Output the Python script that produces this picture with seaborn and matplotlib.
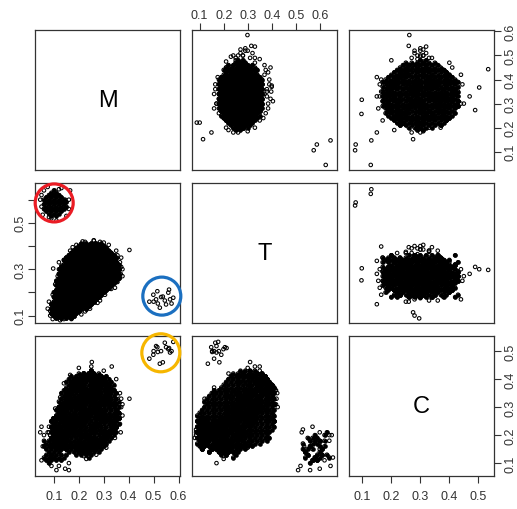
import numpy as np
import pandas as pd
import matplotlib
matplotlib.use("Agg")
import matplotlib.pyplot as plt
from matplotlib.patches import Ellipse
import seaborn as sns

# all point values below are in hundredths

# lower panels: main cloud, one line per M value
main_m = [
    9, 9, 9, 9, 9,
    10, 10, 10, 10, 10, 10,
    11, 11, 11, 11, 11, 11, 11, 11, 11,
    12, 12, 12, 12, 12, 12, 12, 12, 12, 12, 12,
    13, 13, 13, 13, 13, 13, 13, 13, 13, 13, 13, 13,
    14, 14, 14, 14, 14, 14, 14, 14, 14, 14, 14, 14, 14,
    15, 15, 15, 15, 15, 15, 15, 15, 15, 15, 15, 15, 15, 15,
    16, 16, 16, 16, 16, 16, 16, 16, 16, 16, 16, 16, 16, 16,
    17, 17, 17, 17, 17, 17, 17, 17, 17, 17, 17, 17, 17, 17, 17,
    18, 18, 18, 18, 18, 18, 18, 18, 18, 18, 18, 18, 18, 18, 18,
    19, 19, 19, 19, 19, 19, 19, 19, 19, 19, 19, 19, 19, 19, 19,
    20, 20, 20, 20, 20, 20, 20, 20, 20, 20, 20, 20, 20, 20, 20,
    21, 21, 21, 21, 21, 21, 21, 21, 21, 21, 21, 21, 21, 21, 21,
    22, 22, 22, 22, 22, 22, 22, 22, 22, 22, 22, 22, 22, 22, 22,
    23, 23, 23, 23, 23, 23, 23, 23, 23, 23, 23, 23, 23, 23, 23,
    24, 24, 24, 24, 24, 24, 24, 24, 24, 24, 24, 24, 24, 24, 24, 24,
    25, 25, 25, 25, 25, 25, 25, 25, 25, 25, 25, 25, 25, 25, 25, 25,
    26, 26, 26, 26, 26, 26, 26, 26, 26, 26, 26, 26, 26, 26, 26,
    27, 27, 27, 27, 27, 27, 27, 27, 27, 27, 27, 27, 27, 27,
    28, 28, 28, 28, 28, 28, 28, 28, 28, 28, 28, 28, 28, 28, 28,
    29, 29, 29, 29, 29, 29, 29, 29, 29, 29, 29, 29, 29, 29,
    30, 30, 30, 30, 30, 30, 30, 30, 30, 30, 30, 30, 30,
    31, 31, 31, 31, 31, 31, 31, 31, 31, 31, 31, 31, 31,
    32, 32, 32, 32, 32, 32, 32, 32, 32, 32, 32, 32,
    33, 33, 33, 33, 33, 33, 33, 33, 33, 33, 33,
    34, 34, 34, 34, 34, 34, 34, 34, 34, 34,
    35, 35, 35, 35, 35, 35, 35, 35,
    36, 36, 36, 36, 36,
]
main_t = [
    11, 11, 13, 13, 15,
    10, 12, 14, 16, 18, 20,
    9, 11, 13, 15, 17, 19, 21, 23, 25,
    10, 12, 14, 16, 18, 20, 22, 24, 26, 28, 30,
    9, 11, 13, 15, 17, 19, 21, 23, 25, 27, 29, 31,
    10, 12, 14, 16, 18, 20, 22, 24, 26, 28, 30, 32, 34,
    9, 11, 13, 15, 17, 19, 21, 23, 25, 27, 29, 31, 33, 35,
    10, 12, 14, 16, 18, 20, 22, 24, 26, 28, 30, 32, 34, 36,
    9, 11, 13, 15, 17, 19, 21, 23, 25, 27, 29, 31, 33, 35, 37,
    10, 12, 14, 16, 18, 20, 22, 24, 26, 28, 30, 32, 34, 36, 38,
    11, 13, 15, 17, 19, 21, 23, 25, 27, 29, 31, 33, 35, 37, 39,
    12, 14, 16, 18, 20, 22, 24, 26, 28, 30, 32, 34, 36, 38, 40,
    13, 15, 17, 19, 21, 23, 25, 27, 29, 31, 33, 35, 37, 39, 41,
    14, 16, 18, 20, 22, 24, 26, 28, 28, 30, 32, 34, 36, 38, 40,
    13, 15, 17, 19, 21, 23, 25, 27, 29, 31, 33, 35, 37, 39, 41,
    14, 16, 18, 20, 22, 24, 26, 26, 28, 30, 32, 32, 34, 36, 38, 40,
    15, 17, 19, 21, 23, 25, 27, 27, 29, 31, 33, 33, 35, 37, 39, 41,
    16, 18, 20, 22, 24, 26, 28, 28, 30, 32, 34, 34, 36, 38, 40,
    17, 19, 21, 23, 25, 27, 29, 29, 31, 33, 35, 37, 39, 41,
    18, 20, 22, 24, 24, 26, 28, 30, 30, 32, 34, 36, 36, 38, 40,
    19, 21, 23, 25, 27, 27, 29, 31, 33, 33, 35, 37, 39, 41,
    20, 22, 24, 26, 26, 28, 30, 32, 34, 34, 36, 38, 40,
    21, 23, 25, 25, 27, 29, 31, 31, 33, 35, 35, 37, 39,
    22, 24, 26, 26, 28, 30, 30, 32, 34, 34, 36, 38,
    23, 25, 27, 27, 29, 31, 31, 33, 35, 35, 37,
    24, 26, 28, 28, 30, 30, 32, 34, 34, 36,
    25, 27, 29, 29, 31, 31, 33, 35,
    26, 28, 30, 30, 32,
]
main_c = [
    23, 25, 17, 19, 21,
    24, 26, 16, 18, 20, 22,
    23, 15, 17, 19, 21, 21, 29, 25, 27,
    16, 18, 20, 22, 22, 24, 26, 26, 28, 30, 32,
    17, 19, 21, 23, 25, 15, 27, 29, 31, 33, 35, 25,
    20, 22, 24, 24, 16, 18, 28, 30, 32, 34, 26, 28, 36,
    21, 23, 25, 15, 17, 19, 31, 33, 35, 27, 27, 29, 39, 37,
    22, 24, 14, 16, 18, 20, 34, 36, 26, 28, 30, 32, 38, 40,
    25, 15, 17, 19, 21, 23, 35, 25, 27, 29, 31, 33, 41, 37, 39,
    18, 16, 14, 20, 22, 24, 26, 28, 28, 30, 32, 34, 36, 38, 40,
    15, 17, 19, 21, 23, 13, 27, 29, 31, 33, 35, 25, 39, 41, 37,
    18, 20, 22, 24, 14, 16, 30, 32, 34, 36, 26, 28, 42, 40, 38,
    19, 21, 23, 13, 15, 17, 31, 33, 35, 41, 27, 29, 37, 39, 25,
    22, 24, 14, 16, 18, 20, 34, 42, 26, 28, 30, 32, 40, 36, 38,
    23, 19, 15, 17, 13, 21, 35, 39, 27, 29, 31, 33, 41, 37, 25,
    22, 20, 18, 16, 14, 12, 34, 32, 30, 28, 26, 24, 42, 40, 38, 36,
    15, 17, 19, 21, 23, 13, 27, 29, 31, 43, 35, 25, 39, 41, 33, 37,
    18, 20, 22, 24, 14, 16, 30, 32, 34, 36, 40, 28, 42, 38, 26,
    21, 23, 25, 15, 17, 19, 33, 35, 41, 27, 29, 39, 37, 31,
    22, 24, 14, 16, 18, 20, 42, 36, 26, 28, 30, 32, 40, 34, 38,
    25, 15, 17, 19, 21, 23, 41, 27, 29, 39, 33, 35, 37, 31,
    26, 24, 22, 20, 18, 16, 38, 36, 34, 32, 30, 40, 28,
    19, 21, 23, 25, 27, 17, 31, 33, 41, 37, 39, 29, 35,
    22, 24, 26, 28, 18, 20, 34, 36, 38, 40, 30, 32,
    25, 27, 29, 19, 21, 23, 37, 39, 31, 33, 35,
    28, 30, 20, 22, 24, 26, 32, 34, 36, 38,
    31, 21, 23, 25, 27, 29, 35, 33,
    32, 30, 28, 26, 24,
]

# lower panels: more of the main cloud, one line per T value
fill_t = [
    9, 9, 9, 9, 9,
    10, 10, 10, 10, 10, 10,
    11, 11, 11, 11, 11, 11, 11,
    12, 12, 12, 12, 12, 12, 12, 12, 12,
    13, 13, 13, 13, 13, 13, 13, 13, 13,
    14, 14, 14, 14, 14, 14, 14, 14, 14, 14,
    15, 15, 15, 15, 15, 15, 15, 15, 15, 15, 15,
    16, 16, 16, 16, 16, 16, 16, 16, 16, 16, 16,
    17, 17, 17, 17, 17, 17, 17, 17, 17, 17, 17,
    18, 18, 18, 18, 18, 18, 18, 18, 18, 18, 18, 18,
    19, 19, 19, 19, 19, 19, 19, 19, 19, 19, 19, 19,
    20, 20, 20, 20, 20, 20, 20, 20, 20, 20, 20, 20, 20,
    21, 21, 21, 21, 21, 21, 21, 21, 21, 21, 21, 21, 21,
    22, 22, 22, 22, 22, 22, 22, 22, 22, 22, 22, 22, 22, 22,
    23, 23, 23, 23, 23, 23, 23, 23, 23, 23, 23, 23, 23, 23,
    24, 24, 24, 24, 24, 24, 24, 24, 24, 24, 24, 24, 24, 24, 24,
    25, 25, 25, 25, 25, 25, 25, 25, 25, 25, 25, 25, 25, 25,
    26, 26, 26, 26, 26, 26, 26, 26, 26, 26, 26, 26, 26, 26, 26,
    27, 27, 27, 27, 27, 27, 27, 27, 27, 27, 27, 27, 27, 27, 27,
    28, 28, 28, 28, 28, 28, 28, 28, 28, 28, 28, 28, 28, 28,
    29, 29, 29, 29, 29, 29, 29, 29, 29, 29, 29, 29, 29, 29, 29,
    30, 30, 30, 30, 30, 30, 30, 30, 30, 30, 30, 30, 30, 30,
    31, 31, 31, 31, 31, 31, 31, 31, 31, 31, 31, 31, 31, 31,
    32, 32, 32, 32, 32, 32, 32, 32, 32, 32, 32, 32, 32, 32,
    33, 33, 33, 33, 33, 33, 33, 33, 33, 33, 33, 33, 33, 33,
    34, 34, 34, 34, 34, 34, 34, 34, 34, 34, 34, 34, 34,
    35, 35, 35, 35, 35, 35, 35, 35, 35, 35, 35, 35, 35,
    36, 36, 36, 36, 36, 36, 36, 36, 36, 36, 36, 36, 36,
    37, 37, 37, 37, 37, 37, 37, 37, 37, 37, 37, 37,
    38, 38, 38, 38, 38, 38, 38, 38, 38, 38, 38, 38,
    39, 39, 39, 39, 39, 39, 39, 39, 39, 39, 39,
    40, 40, 40, 40, 40, 40, 40, 40, 40,
    41, 41, 41, 41, 41, 41, 41, 41,
]
fill_c = [
    19, 21, 23, 25, 27,
    18, 20, 22, 24, 26, 28,
    17, 19, 21, 23, 25, 27, 29,
    16, 18, 20, 22, 24, 26, 28, 30, 32,
    17, 19, 21, 23, 25, 27, 29, 31, 33,
    16, 18, 20, 22, 24, 26, 28, 30, 32, 34,
    15, 17, 19, 21, 23, 25, 27, 29, 31, 33, 35,
    16, 18, 20, 22, 24, 26, 28, 30, 32, 34, 36,
    15, 17, 19, 21, 23, 25, 27, 29, 31, 33, 35,
    14, 16, 18, 20, 22, 24, 26, 28, 30, 32, 34, 36,
    15, 17, 19, 21, 23, 25, 27, 29, 31, 33, 35, 37,
    14, 16, 18, 20, 22, 24, 26, 28, 30, 32, 34, 36, 38,
    15, 17, 19, 21, 23, 25, 27, 29, 31, 33, 35, 37, 39,
    14, 16, 18, 20, 22, 24, 26, 28, 30, 32, 34, 36, 38, 40,
    15, 17, 19, 21, 23, 25, 27, 29, 31, 33, 35, 37, 39, 41,
    14, 16, 18, 20, 22, 24, 26, 28, 30, 32, 34, 36, 38, 40, 42,
    15, 17, 19, 21, 23, 25, 27, 29, 31, 33, 35, 37, 39, 41,
    14, 16, 18, 20, 22, 24, 26, 28, 30, 32, 34, 36, 38, 40, 42,
    15, 17, 19, 21, 23, 25, 27, 29, 31, 33, 35, 37, 39, 41, 43,
    16, 18, 20, 22, 24, 26, 28, 30, 32, 34, 36, 38, 40, 42,
    15, 17, 19, 21, 23, 25, 27, 29, 31, 33, 35, 37, 39, 41, 43,
    16, 18, 20, 22, 24, 26, 28, 30, 32, 34, 36, 38, 40, 42,
    17, 19, 21, 23, 25, 27, 29, 31, 33, 35, 37, 39, 41, 43,
    16, 18, 20, 22, 24, 26, 28, 30, 32, 34, 36, 38, 40, 42,
    17, 19, 21, 23, 25, 27, 29, 31, 33, 35, 37, 39, 41, 43,
    18, 20, 22, 24, 26, 28, 30, 32, 34, 36, 38, 40, 42,
    17, 19, 21, 23, 25, 27, 29, 31, 33, 35, 37, 39, 41,
    18, 20, 22, 24, 26, 28, 30, 32, 34, 36, 38, 40, 42,
    19, 21, 23, 25, 27, 29, 31, 33, 35, 37, 39, 41,
    18, 20, 22, 24, 26, 28, 30, 32, 34, 36, 38, 40,
    19, 21, 23, 25, 27, 29, 31, 33, 35, 37, 39,
    22, 24, 26, 28, 30, 32, 34, 36, 38,
    23, 25, 27, 29, 31, 33, 35, 37,
]
fill_m = [
    13, 15, 11, 17, 13,
    14, 12, 16, 10, 18, 14,
    13, 11, 15, 9, 17, 19, 13,
    14, 12, 16, 10, 18, 20, 14, 16, 18,
    15, 11, 19, 13, 21, 17, 23, 15, 19,
    14, 20, 10, 22, 16, 12, 24, 18, 22, 16,
    15, 21, 11, 25, 17, 9, 23, 13, 19, 25, 17,
    20, 12, 24, 16, 10, 22, 14, 26, 18, 22, 20,
    19, 13, 23, 11, 27, 17, 21, 15, 25, 19, 23,
    20, 26, 12, 22, 16, 28, 10, 24, 14, 20, 26, 18,
    21, 27, 13, 25, 17, 29, 11, 23, 19, 15, 27, 21,
    22, 16, 28, 10, 24, 18, 30, 12, 26, 20, 24, 28, 20,
    23, 17, 29, 11, 25, 19, 31, 13, 27, 21, 15, 25, 21,
    24, 18, 30, 12, 26, 20, 32, 14, 28, 22, 16, 26, 20, 24,
    25, 19, 31, 13, 27, 21, 33, 15, 29, 23, 17, 27, 21, 25,
    22, 28, 14, 32, 18, 26, 12, 30, 20, 34, 16, 24, 30, 20, 26,
    23, 29, 15, 33, 11, 19, 35, 25, 13, 31, 21, 27, 17, 23,
    24, 18, 30, 14, 34, 20, 36, 26, 12, 32, 22, 16, 28, 22, 24,
    25, 19, 31, 13, 35, 21, 29, 15, 33, 23, 17, 27, 31, 21, 25,
    22, 28, 14, 34, 18, 36, 24, 12, 30, 20, 26, 32, 18, 22,
    27, 21, 15, 33, 25, 13, 35, 19, 29, 23, 31, 17, 25, 29, 25,
    26, 20, 32, 14, 28, 22, 36, 16, 30, 24, 34, 18, 28, 24,
    23, 29, 17, 35, 13, 27, 21, 33, 15, 25, 31, 19, 27, 25,
    24, 30, 18, 34, 14, 36, 22, 28, 16, 32, 20, 26, 30, 22,
    25, 31, 19, 35, 15, 29, 23, 33, 17, 27, 21, 29, 23, 25,
    26, 32, 20, 34, 16, 28, 22, 14, 30, 24, 18, 26, 22,
    27, 21, 33, 15, 29, 23, 35, 17, 31, 25, 19, 27, 23,
    24, 30, 18, 34, 20, 28, 16, 26, 32, 22, 28, 24, 26,
    25, 31, 19, 33, 21, 29, 17, 27, 23, 31, 25, 21,
    26, 20, 30, 18, 28, 22, 32, 24, 28, 20, 26, 24,
    25, 29, 21, 31, 23, 27, 19, 29, 23, 27, 25,
    26, 22, 30, 24, 20, 28, 24, 26, 22,
    25, 23, 27, 21, 29, 25, 23, 27,
]

# lower panels: ragged rim of the main cloud
fringe_m = [9.5, 10.5, 11.5, 13, 15, 16.5, 19, 21.5, 26, 28.5, 32, 37, 37.5, 35.5, 33, 30.5, 27.5,
            24.5, 21, 17, 8.5, 9.5, 12.5, 10.5, 12.5, 14, 16.5, 23, 27, 31, 34.5, 20, 25, 30, 13,
            16, 22, 26, 22, 36.5, 37.5, 35, 7.5, 8, 33.5]
fringe_t = [19, 23.5, 27, 31.5, 35, 38, 40.5, 42, 42.3, 41.8, 40.5, 35, 30, 24.5, 21.5, 19, 15.5,
            13, 10.5, 8.5, 10, 8.5, 8, 20, 25, 30, 33, 20, 25, 30, 32, 30, 33, 35, 12,
            16, 22, 42.5, 20, 33, 27, 38, 13, 16, 26]
fringe_c = [22, 24, 25, 28, 30, 30, 34, 33, 35, 31, 36, 33, 27, 29, 25, 27, 21,
            19, 18, 20, 20, 22, 19, 29.5, 33.5, 38.5, 41.5, 11.5, 13, 15.5, 19, 44, 44.5, 43, 33,
            37, 42, 30, 12.5, 35, 31, 40, 21, 23, 23]

# lower panels: group ringed in red (top left of T vs M), core then rim
red_m = [6, 6, 6, 7, 7, 7, 7, 8, 8, 8, 8, 8, 9, 9, 9, 9, 9, 9,
         10, 10, 10, 10, 10, 10, 11, 11, 11, 11, 11, 11, 12, 12, 12, 12, 12,
         13, 13, 13, 13, 14, 14, 14, 15, 15]
red_t = [56, 58, 60, 55, 57, 59, 61, 54, 56, 58, 60, 62, 53, 55, 57, 59, 61, 63,
         54, 56, 58, 60, 62, 64, 53, 55, 57, 59, 61, 63, 54, 56, 58, 60, 62,
         55, 57, 59, 61, 56, 58, 60, 57, 59]
red_c = [16, 12, 18, 13, 17, 11, 15, 14, 10, 18, 12, 16, 17, 13, 19, 11, 15, 13,
         12, 16, 20, 14, 18, 12, 15, 19, 11, 17, 13, 21, 14, 18, 12, 16, 20,
         15, 11, 19, 13, 16, 12, 18, 15, 13]
red_rim_m = [4.5, 5, 16.5, 16, 7.5, 9, 13, 5.5, 15, 11, 14.5, 5, 12, 8, 16, 6]
red_rim_t = [60, 57, 64, 56, 65.5, 52, 65, 53.5, 53, 51, 60, 62, 64.5, 52.5, 60, 64]
red_rim_c = [21, 23, 18, 7.5, 12, 9, 20, 16, 22, 7.5, 8, 11, 9, 21, 15, 20]

# lower panels: group ringed in blue / yellow
blue_m = [48.3, 49.9, 51, 51.5, 51.7, 52.5, 53, 53.7, 54.5, 55, 55.9, 56.2, 56.6, 57.2, 57.9, 50]
blue_t = [16, 19, 17, 20.5, 15.2, 13.4, 18, 18.2, 16.5, 14.8, 19.9, 21.2, 17, 15.2, 17.7, 16]
blue_c = [47.3, 48.7, 51.8, 51.4, 49.7, 45.5, 50, 46, 53, 51.4, 50.7, 51.1, 49.5, 50, 53.3, 50]

# lower panels: stray points round the main cloud
edge_m = [40.3, 36.5, 36.8, 9.7, 16, 25.2, 33.2, 8.5, 12, 17.5, 22.5, 30, 35.5, 34.5, 28.5, 22.5, 14, 37]
edge_t = [38.3, 27, 28, 30.3, 17, 31, 35, 12, 33, 39.5, 41.8, 41.5, 36, 22, 16.5, 11.8, 8.5, 31]
edge_c = [33, 24, 21, 26, 10, 46.1, 44.5, 20, 28, 33, 36, 36, 34, 30, 22, 16, 21, 30]

# upper panels: main cloud, one line per M value
up_m = [
    19, 19,
    20, 20, 20, 20, 20,
    21, 21, 21, 21, 21, 21, 21, 21,
    22, 22, 22, 22, 22, 22, 22, 22, 22,
    23, 23, 23, 23, 23, 23, 23, 23, 23, 23,
    24, 24, 24, 24, 24, 24, 24, 24, 24, 24, 24,
    25, 25, 25, 25, 25, 25, 25, 25, 25, 25, 25, 25,
    26, 26, 26, 26, 26, 26, 26, 26, 26, 26, 26, 26, 26,
    27, 27, 27, 27, 27, 27, 27, 27, 27, 27, 27, 27,
    28, 28, 28, 28, 28, 28, 28, 28, 28, 28, 28, 28, 28,
    29, 29, 29, 29, 29, 29, 29, 29, 29, 29, 29, 29, 29, 29,
    30, 30, 30, 30, 30, 30, 30, 30, 30, 30, 30, 30, 30,
    31, 31, 31, 31, 31, 31, 31, 31, 31, 31, 31, 31, 31, 31,
    32, 32, 32, 32, 32, 32, 32, 32, 32, 32, 32, 32, 32,
    33, 33, 33, 33, 33, 33, 33, 33, 33, 33, 33, 33, 33, 33,
    34, 34, 34, 34, 34, 34, 34, 34, 34, 34, 34, 34, 34,
    35, 35, 35, 35, 35, 35, 35, 35, 35, 35, 35, 35, 35, 35,
    36, 36, 36, 36, 36, 36, 36, 36, 36, 36, 36, 36, 36,
    37, 37, 37, 37, 37, 37, 37, 37, 37, 37, 37, 37, 37, 37,
    38, 38, 38, 38, 38, 38, 38, 38, 38, 38, 38, 38, 38,
    39, 39, 39, 39, 39, 39, 39, 39, 39, 39, 39, 39, 39, 39,
    40, 40, 40, 40, 40, 40, 40, 40, 40, 40, 40, 40, 40,
    41, 41, 41, 41, 41, 41, 41, 41, 41, 41, 41, 41,
    42, 42, 42, 42, 42, 42, 42, 42, 42, 42, 42,
    43, 43, 43, 43, 43, 43, 43, 43, 43, 43,
    44, 44, 44, 44, 44, 44, 44, 44, 44,
    45, 45, 45, 45, 45, 45, 45, 45,
    46, 46, 46, 46, 46, 46, 46,
    47, 47, 47, 47, 47, 47,
    48, 48,
]
up_t = [
    25, 27,
    24, 26, 28, 28, 30,
    23, 25, 25, 27, 27, 29, 29, 31,
    22, 24, 24, 26, 28, 28, 30, 30, 32,
    21, 23, 25, 25, 27, 27, 29, 31, 31, 33,
    20, 22, 24, 24, 26, 28, 28, 30, 30, 32, 34,
    19, 21, 23, 25, 25, 27, 27, 29, 29, 31, 33, 35,
    20, 22, 22, 24, 26, 26, 28, 28, 30, 30, 32, 32, 34,
    19, 21, 23, 23, 25, 27, 27, 29, 31, 31, 33, 35,
    18, 20, 22, 24, 24, 26, 28, 28, 30, 32, 32, 34, 36,
    19, 21, 21, 23, 25, 25, 27, 27, 29, 29, 31, 33, 33, 35,
    18, 20, 22, 22, 24, 26, 28, 28, 30, 30, 32, 34, 36,
    19, 21, 23, 23, 25, 25, 27, 27, 29, 31, 31, 33, 33, 35,
    18, 20, 22, 24, 24, 26, 26, 28, 30, 32, 32, 34, 36,
    19, 21, 23, 23, 25, 27, 27, 29, 29, 31, 31, 33, 33, 35,
    18, 20, 22, 24, 24, 26, 28, 28, 30, 30, 32, 34, 36,
    19, 21, 21, 23, 25, 25, 27, 29, 29, 31, 31, 33, 35, 35,
    18, 20, 22, 22, 24, 26, 26, 28, 30, 32, 32, 34, 36,
    19, 21, 23, 23, 25, 25, 27, 27, 29, 31, 31, 33, 33, 35,
    18, 20, 22, 24, 24, 26, 28, 28, 30, 30, 32, 34, 36,
    19, 21, 21, 23, 25, 25, 27, 27, 29, 31, 31, 33, 33, 35,
    18, 20, 22, 22, 24, 26, 28, 28, 30, 32, 32, 34, 36,
    19, 21, 23, 23, 25, 27, 27, 29, 31, 31, 33, 35,
    20, 22, 24, 24, 26, 28, 28, 30, 30, 32, 34,
    21, 23, 25, 25, 27, 27, 29, 29, 31, 33,
    20, 22, 24, 26, 28, 28, 30, 32, 34,
    21, 23, 25, 27, 27, 29, 31, 33,
    22, 24, 26, 28, 28, 30, 32,
    25, 25, 27, 27, 29, 29,
    26, 28,
]
up_c = [
    31, 29,
    26, 30, 34, 28, 32,
    25, 31, 37, 27, 33, 23, 29, 35,
    26, 30, 34, 38, 24, 28, 32, 36, 22,
    27, 33, 39, 25, 31, 37, 23, 29, 35, 21,
    28, 34, 40, 24, 30, 36, 20, 26, 32, 38, 22,
    29, 39, 25, 35, 21, 31, 41, 27, 37, 23, 33, 19,
    18, 24, 30, 36, 42, 22, 28, 34, 40, 20, 26, 32, 38,
    21, 31, 41, 27, 37, 23, 33, 19, 29, 39, 25, 35,
    22, 28, 34, 40, 20, 26, 32, 38, 18, 24, 30, 36, 42,
    23, 29, 35, 41, 19, 25, 31, 37, 43, 21, 27, 33, 39, 17,
    26, 32, 38, 18, 24, 30, 36, 42, 22, 28, 34, 40, 20,
    27, 33, 39, 17, 23, 29, 35, 41, 19, 25, 31, 37, 43, 21,
    30, 40, 24, 34, 18, 28, 38, 22, 32, 42, 26, 36, 20,
    31, 41, 23, 33, 43, 25, 35, 17, 27, 37, 19, 29, 39, 21,
    34, 40, 20, 26, 32, 38, 18, 24, 30, 36, 42, 22, 28,
    35, 41, 19, 25, 31, 37, 43, 21, 27, 33, 39, 17, 23, 29,
    38, 22, 32, 42, 26, 36, 20, 30, 40, 24, 34, 18, 28,
    39, 21, 31, 41, 23, 33, 43, 25, 35, 17, 27, 37, 19, 29,
    42, 22, 28, 34, 40, 20, 26, 32, 38, 18, 24, 30, 36,
    43, 21, 27, 33, 39, 17, 23, 29, 35, 41, 19, 25, 31, 37,
    20, 30, 40, 24, 34, 18, 28, 38, 22, 32, 42, 26, 36,
    23, 33, 19, 29, 39, 25, 35, 21, 31, 41, 27, 37,
    26, 32, 38, 22, 28, 34, 40, 24, 30, 36, 20,
    29, 35, 21, 27, 33, 39, 25, 31, 37, 23,
    32, 36, 22, 26, 30, 34, 38, 24, 28,
    35, 25, 31, 37, 27, 33, 23, 29,
    24, 30, 36, 28, 34, 26, 32,
    27, 25, 35, 33, 31, 29,
    32, 30,
]

# upper panels: more of the main cloud, one line per T value
up_fill_t = [
    18, 18, 18, 18, 18,
    19, 19, 19, 19, 19, 19, 19, 19,
    20, 20, 20, 20, 20, 20, 20, 20, 20,
    21, 21, 21, 21, 21, 21, 21, 21, 21, 21,
    22, 22, 22, 22, 22, 22, 22, 22, 22, 22, 22,
    23, 23, 23, 23, 23, 23, 23, 23, 23, 23, 23, 23,
    24, 24, 24, 24, 24, 24, 24, 24, 24, 24, 24, 24, 24,
    25, 25, 25, 25, 25, 25, 25, 25, 25, 25, 25, 25, 25, 25,
    26, 26, 26, 26, 26, 26, 26, 26, 26, 26, 26, 26, 26,
    27, 27, 27, 27, 27, 27, 27, 27, 27, 27, 27, 27, 27, 27,
    28, 28, 28, 28, 28, 28, 28, 28, 28, 28, 28, 28, 28,
    29, 29, 29, 29, 29, 29, 29, 29, 29, 29, 29, 29, 29, 29,
    30, 30, 30, 30, 30, 30, 30, 30, 30, 30, 30, 30, 30,
    31, 31, 31, 31, 31, 31, 31, 31, 31, 31, 31, 31,
    32, 32, 32, 32, 32, 32, 32, 32, 32, 32, 32,
    33, 33, 33, 33, 33, 33, 33, 33, 33, 33,
    34, 34, 34, 34, 34, 34, 34, 34, 34,
    35, 35, 35, 35, 35, 35, 35, 35,
    36, 36, 36, 36, 36,
]
up_fill_c = [
    26, 28, 30, 32, 34,
    23, 25, 27, 29, 31, 33, 35, 37,
    22, 24, 26, 28, 30, 32, 34, 36, 38,
    21, 23, 25, 27, 29, 31, 33, 35, 37, 39,
    20, 22, 24, 26, 28, 30, 32, 34, 36, 38, 40,
    19, 21, 23, 25, 27, 29, 31, 33, 35, 37, 39, 41,
    18, 20, 22, 24, 26, 28, 30, 32, 34, 36, 38, 40, 42,
    17, 19, 21, 23, 25, 27, 29, 31, 33, 35, 37, 39, 41, 43,
    18, 20, 22, 24, 26, 28, 30, 32, 34, 36, 38, 40, 42,
    17, 19, 21, 23, 25, 27, 29, 31, 33, 35, 37, 39, 41, 43,
    18, 20, 22, 24, 26, 28, 30, 32, 34, 36, 38, 40, 42,
    17, 19, 21, 23, 25, 27, 29, 31, 33, 35, 37, 39, 41, 43,
    18, 20, 22, 24, 26, 28, 30, 32, 34, 36, 38, 40, 42,
    19, 21, 23, 25, 27, 29, 31, 33, 35, 37, 39, 41,
    20, 22, 24, 26, 28, 30, 32, 34, 36, 38, 40,
    21, 23, 25, 27, 29, 31, 33, 35, 37, 39,
    22, 24, 26, 28, 30, 32, 34, 36, 38,
    23, 25, 27, 29, 31, 33, 35, 37,
    26, 28, 30, 32, 34,
]
up_fill_m = [
    32, 36, 30, 38, 34,
    31, 27, 35, 39, 29, 33, 37, 31,
    30, 26, 36, 40, 28, 34, 24, 38, 32,
    33, 27, 39, 23, 35, 29, 41, 31, 25, 37,
    34, 28, 40, 24, 36, 30, 44, 26, 38, 32, 30,
    35, 29, 41, 25, 37, 31, 43, 27, 39, 33, 23, 35,
    32, 38, 26, 42, 30, 36, 22, 40, 34, 28, 44, 32, 36,
    33, 27, 39, 21, 45, 31, 37, 25, 41, 29, 35, 23, 39, 31,
    34, 28, 40, 22, 46, 32, 38, 26, 42, 30, 36, 24, 34,
    31, 37, 25, 43, 29, 35, 21, 47, 33, 39, 27, 41, 33, 29,
    30, 36, 24, 42, 28, 34, 20, 46, 32, 38, 26, 40, 34,
    35, 29, 41, 23, 37, 31, 45, 27, 39, 33, 21, 43, 35, 31,
    34, 28, 40, 22, 36, 30, 44, 26, 38, 32, 24, 42, 36,
    31, 37, 25, 43, 29, 35, 23, 41, 33, 27, 39, 31,
    32, 38, 26, 42, 30, 36, 24, 40, 34, 28, 32,
    33, 27, 39, 29, 35, 31, 37, 25, 41, 33,
    30, 36, 28, 38, 32, 34, 26, 40, 30,
    33, 29, 37, 31, 35, 27, 39, 33,
    32, 36, 30, 38, 34,
]

# upper panels: ragged rim of the main cloud
up_fringe_m = [30, 36, 41, 50, 52, 49, 30, 38, 44, 26, 18, 18.5, 20, 28, 38, 33, 30, 38, 42, 33,
               34, 36, 34, 38, 49, 50, 50, 51, 52, 49, 49.5, 51, 47.5, 48.5,
               28, 32, 35, 40, 43, 46, 31, 37, 52.5, 53, 45, 24]
up_fringe_t = [17, 16.5, 17.5, 26, 30, 33, 38.5, 39, 37.5, 37.5, 24, 30, 21, 25, 30, 28, 27, 25, 30, 22,
               37, 38, 16, 16.5, 25, 28, 24, 27, 29, 31, 23, 32, 21, 35,
               38.5, 39.5, 38, 39, 38.5, 37, 40.5, 40, 27, 29, 39.5, 36.5]
up_fringe_c = [28, 33, 30, 30, 28, 34, 30, 27, 33, 25, 27, 31, 33, 15.5, 16, 15, 45, 44.5, 44, 16,
               22, 36, 25, 36, 27, 31, 29, 32, 30, 33, 30, 28, 31, 29,
               30, 26, 33, 29, 31, 27, 31, 28, 31, 30, 34, 29]

# upper panels: stray points
up_edge_m = [22.1, 22.1, 15.2, 18, 31.6, 25.7, 41, 35, 58.5, 54, 53.7, 44.3, 36.7, 27.3, 33, 37.5, 10.6,
             13, 14.7, 4.5, 19, 20, 48, 47, 26, 42, 30, 40, 18, 50, 45, 23, 33, 28]
up_edge_t = [8.8, 10, 11.4, 14.9, 30.4, 25.2, 33.6, 39.8, 29.9, 31.5, 33, 29.7, 30, 31, 28, 40, 57.5,
             58.8, 64.5, 62.5, 22, 33, 25, 33, 18, 37, 17, 19, 26, 28, 21, 35, 38, 16]
up_edge_c = [29.6, 28, 27.5, 15, 9.8, 9.7, 15, 16.5, 26.2, 26, 32, 53.4, 50.3, 48.9, 47, 30, 7.5,
             7.7, 13.1, 12.9, 21, 37, 20, 40, 38, 25, 44, 16.5, 30, 31, 41, 17, 33, 26]

names = ["M", "T", "C"]
lims = {"M": (0.024, 0.606), "T": (0.068, 0.672), "C": (0.054, 0.554)}
tick_vals = {"M": [0.1, 0.2, 0.3, 0.4, 0.5, 0.6],
             "T": [0.1, 0.2, 0.3, 0.4, 0.5, 0.6],
             "C": [0.1, 0.2, 0.3, 0.4, 0.5]}

# coloured rings: (row, col, x centre, y centre, colour)
rings = [(1, 0, 0.101, 0.586, "#ea1c24"),
         (1, 0, 0.533, 0.184, "#1b6fc0"),
         (2, 0, 0.529, 0.494, "#f6b600")]
ring_px = 19


def frame(ms, ts, cs):
    assert len(ms) == len(ts) == len(cs)
    return pd.DataFrame({"M": np.array(ms) / 100, "T": np.array(ts) / 100,
                         "C": np.array(cs) / 100})


# dense cores (drawn solid underneath) and every point (drawn as rings)
lower_core = frame(main_m + fill_m + red_m, main_t + fill_t + red_t, main_c + fill_c + red_c)
lower = frame(main_m + fill_m + fringe_m + red_m + red_rim_m + blue_m + edge_m,
              main_t + fill_t + fringe_t + red_t + red_rim_t + blue_t + edge_t,
              main_c + fill_c + fringe_c + red_c + red_rim_c + blue_c + edge_c)
upper_core = frame(up_m + up_fill_m, up_t + up_fill_t, up_c + up_fill_c)
upper = frame(up_m + up_fill_m + up_fringe_m + up_edge_m,
              up_t + up_fill_t + up_fringe_t + up_edge_t,
              up_c + up_fill_c + up_fringe_c + up_edge_c)

sns.set_theme(style="white")
plt.rcParams["font.family"] = ["Liberation Sans", "DejaVu Sans"]

ring_kw = dict(s=6.5, marker="o", facecolor="none", edgecolor="black",
               linewidth=0.75, legend=False, zorder=3)
dot_kw = dict(s=11, marker="o", color="black", linewidth=0, legend=False, zorder=2)

g = sns.PairGrid(lower, vars=names, height=1.7, despine=False)
g.map_lower(sns.scatterplot, **ring_kw)
for i in range(3):
    for j in range(3):
        if i > j:
            sns.scatterplot(data=lower_core, x=names[j], y=names[i], ax=g.axes[i, j], **dot_kw)
        elif i < j:
            sns.scatterplot(data=upper_core, x=names[j], y=names[i], ax=g.axes[i, j], **dot_kw)
            sns.scatterplot(data=upper, x=names[j], y=names[i], ax=g.axes[i, j], **ring_kw)

fig = g.figure
fig.set_size_inches(5.17, 5.10)
fig.subplots_adjust(left=35 / 517, right=494 / 517, bottom=1 - 477 / 510,
                    top=1 - 31 / 510, wspace=12 / 145, hspace=13 / 140)

for i, name in enumerate(names):
    ax = g.axes[i, i]
    ax.text(0.5, 0.5, name, transform=ax.transAxes, ha="center", va="center",
            fontsize=17, color="black")
    ax.set_xlim(lims[name])
    ax.set_ylim(lims[name])

for ax in g.axes.flat:
    ax.set_xlabel("")
    ax.set_ylabel("")
    ax.tick_params(which="both", bottom=False, top=False, left=False, right=False,
                   labelbottom=False, labeltop=False, labelleft=False, labelright=False,
                   direction="out", length=5, width=0.8, color="#333333",
                   labelsize=9, labelcolor="#333333")
    for sp in ax.spines.values():
        sp.set_visible(True)
        sp.set_color("#333333")
        sp.set_linewidth(0.9)

fmt = lambda v: f"{v:.1f}"
g.axes[2, 0].set_xticks(tick_vals["M"], labels=[fmt(v) for v in tick_vals["M"]])
g.axes[0, 1].set_xticks(tick_vals["T"], labels=[fmt(v) for v in tick_vals["T"]])
g.axes[2, 2].set_xticks(tick_vals["C"], labels=[fmt(v) for v in tick_vals["C"]])
g.axes[0, 2].set_yticks(tick_vals["M"], labels=[fmt(v) for v in tick_vals["M"]])
g.axes[1, 0].set_yticks(tick_vals["T"],
                        labels=[fmt(v) if k % 2 == 0 else "" for k, v in enumerate(tick_vals["T"])])
g.axes[2, 2].set_yticks(tick_vals["C"], labels=[fmt(v) for v in tick_vals["C"]])

g.axes[2, 0].tick_params(axis="x", bottom=True, labelbottom=True, pad=5)
g.axes[2, 2].tick_params(axis="x", bottom=True, labelbottom=True, pad=5)
g.axes[0, 1].tick_params(axis="x", top=True, labeltop=True, pad=1.5)
g.axes[0, 2].tick_params(axis="y", right=True, labelright=True, labelrotation=90, pad=2.5)
g.axes[2, 2].tick_params(axis="y", right=True, labelright=True, labelrotation=90, pad=2.5)
g.axes[1, 0].tick_params(axis="y", left=True, labelleft=True, labelrotation=90, pad=1)
for ax in (g.axes[0, 2], g.axes[2, 2], g.axes[1, 0]):
    for lab in ax.get_yticklabels():
        lab.set_verticalalignment("center")

fw, fh = fig.get_size_inches() * fig.dpi
for r, c, cx, cy, col in rings:
    ax = g.axes[r, c]
    pos = ax.get_position()
    xl, yl = lims[names[c]], lims[names[r]]
    w = 2 * ring_px * (xl[1] - xl[0]) / (pos.width * fw)
    h = 2 * ring_px * (yl[1] - yl[0]) / (pos.height * fh)
    ax.add_patch(Ellipse((cx, cy), w, h, fill=False, edgecolor=col,
                         linewidth=2.3, clip_on=False, zorder=5))

fig.savefig("out.png", dpi=100, facecolor="white")
